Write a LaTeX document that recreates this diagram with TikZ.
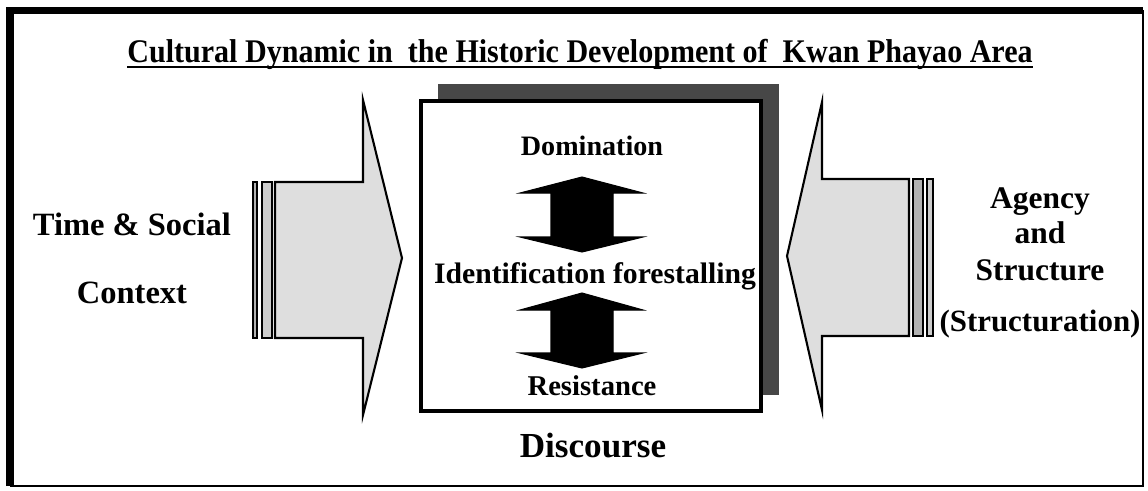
\documentclass[tikz,border=0pt]{standalone}
\usepackage{fontspec}
\setmainfont{Liberation Serif}
\begin{document}
\begin{tikzpicture}[x=0.02cm, y=-0.02cm,
    txt/.style={anchor=base, inner sep=0pt, font=\bfseries\fontsize{#1}{#1}\selectfont},
    blockarrow/.style={draw, line width=1.2pt, fill=black!13, line join=miter},
    bar/.style={draw, line width=1pt, fill=black!30},
    bothway/.style={draw, fill=black, line width=0.6pt, line join=miter}]
    \useasboundingbox (0,0) rectangle (1148,490);
    \draw[line width=1.1pt] (1143,10) -- (1143,486) -- (10,486);
    \draw[line width=4pt] (10,486) -- (10,10.5) -- (1143,10.5);
    \node[txt=18.8] (title) at (580,62) {\scalebox{0.91}[1]{Cultural Dynamic in\ \ the Historic Development of\ \ Kwan Phayao Area}};
    \draw[line width=1.1pt] ([yshift=-2.8pt]title.base west) -- ([yshift=-2.8pt]title.base east);
    \draw[blockarrow] (275,182) -- (363,182) -- (363,100) -- (402,258) -- (363,415) -- (363,338) -- (275,338) -- cycle;
    \draw[bar] (253,182) rectangle (257,338);
    \draw[bar, fill=black!20] (262,182) rectangle (272,338);
    \draw[blockarrow] (909,179) -- (822,179) -- (822,102) -- (787,256) -- (822,410) -- (822,336) -- (909,336) -- cycle;
    \draw[bar] (913,179) rectangle (923,336);
    \draw[bar, fill=black!20] (927,179) rectangle (933,336);
    \fill[black!72] (438,84) rectangle (779,395);
    \draw[line width=2.4pt, fill=white] (421,101) rectangle (761,411);
    \node[txt=16] (domination) at (592,155) {Domination};
    \node[txt=16.9] (forestall) at (595,283) {Identification forestalling};
    \node[txt=16.3] (resistance) at (592,395) {Resistance};
    \node[txt=20] (discourse) at (593,457) {Discourse};
    \draw[bothway] (582,177) -- (643,193) -- (613,193) -- (613,237) -- (643,237) -- (582,252) -- (520,237) -- (551,237) -- (551,193) -- (520,193) -- cycle;
    \draw[bothway] (582,293) -- (643,310) -- (613,310) -- (613,353) -- (643,353) -- (582,368) -- (520,353) -- (551,353) -- (551,310) -- (520,310) -- cycle;
    \node[txt=18.5] (time) at (132,235) {Time \& Social};
    \node[txt=18.5] (context) at (132,303) {Context};
    \node[txt=17.9] (agency) at (1040,208) {Agency};
    \node[txt=17.9] (and) at (1040,243) {and};
    \node[txt=17.9] (structure) at (1040,280) {Structure};
    \node[txt=17.6] (structuration) at (1040,331) {(Structuration)};
\end{tikzpicture}
\end{document}
